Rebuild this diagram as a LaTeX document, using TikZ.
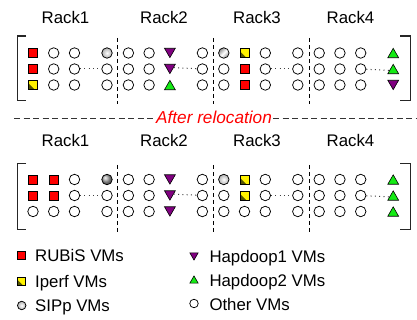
\documentclass[tikz,border=0pt]{standalone}
\usepackage{fontspec}
\setmainfont{Liberation Sans}
\usetikzlibrary{shapes.geometric}

\definecolor{hdpurple}{RGB}{128,0,128}
\definecolor{hdgreen}{RGB}{20,235,20}
\definecolor{iperfdark}{RGB}{85,85,0}

% x positions of the 16 server columns (4 racks x 4 columns)
\def\colx{{33,53.7,74.5,107,128.4,149.1,169.9,202.4,223.8,244.5,265.3,297.8,319.2,339.9,360.7,393.2}}

% one row of VM markers: node prefix, y position, list of marker codes
\newcommand\vmrow[3]{%
  \foreach \code [count=\c] in {#3} {
    \pgfmathsetmacro\xx{\colx[\c-1]}
    \node[m-\code] (#1-\c) at (\xx,#2) {};
  }}

\begin{document}
\begin{tikzpicture}[x=1pt,y=-1pt,
  font=\fontsize{16.8}{19}\selectfont,
  vm/.style={circle,draw=black,line width=0.75pt,minimum size=10.5pt,inner sep=0pt,fill=white},
  m-o/.style={vm},
  m-r/.style={rectangle,draw=black,line width=0.6pt,fill=red,minimum size=9pt,inner sep=0pt},
  m-y/.style={m-r,fill=yellow,path picture={
      \fill[iperfdark] (path picture bounding box.south west)
        -- ([xshift=-3pt]path picture bounding box.south east)
        -- ([yshift=-3pt]path picture bounding box.north west) -- cycle;}},
  m-s1/.style={vm,inner color=white,outer color=gray!60},
  m-s2/.style={vm,left color=gray!85,right color=gray!85,middle color=white,shading angle=45},
  m-s3/.style={vm,ball color=gray!70},
  tri/.style={regular polygon,regular polygon sides=3,draw=black,line width=0.6pt,
      minimum size=12.5pt,inner sep=0pt},
  m-d/.style={tri,shape border rotate=180,fill=hdpurple,yshift=1.6pt},
  m-u/.style={tri,fill=hdgreen,yshift=-1.6pt},
  bracket/.style={line width=1.3pt,black!85},
  divider/.style={line width=0.8pt,dash pattern=on 4pt off 3pt},
  dotline/.style={line width=1pt,dash pattern=on 1pt off 3.3pt,black!75},
  sepline/.style={line width=0.9pt,dash pattern=on 6pt off 3.5pt,black!80},
  rack/.style={inner sep=0pt},
  lgtext/.style={anchor=base west,inner sep=0pt},
  lg-r/.style={m-r,minimum size=8pt},
  lg-y/.style={m-y,minimum size=8pt},
  lg-s/.style={m-s1,minimum size=8.5pt},
  lg-o/.style={vm,minimum size=8.5pt},
  lg-d/.style={m-d,minimum size=9.5pt,yshift=-0.4pt},
  lg-u/.style={m-u,minimum size=9.5pt,yshift=0.4pt}]

\fill[white] (0,0) rectangle (417,320);
\useasboundingbox (0,0) rectangle (417,320);

% ---------------- before relocation ----------------
\node[rack] (r1a) at (65.5,17) {Rack1};
\node[rack] (r2a) at (164,17) {Rack2};
\node[rack] (r3a) at (257,17) {Rack3};
\node[rack] (r4a) at (350.5,17) {Rack4};

\draw[bracket] (26,36) -- (17.5,36) -- (17.5,100.5) -- (26,100.5);
\draw[bracket] (400,36) -- (410.7,36) -- (410.7,100.5) -- (400,100.5);
\foreach \x in {117.5,213.5,309.5} \draw[divider] (\x,38) -- (\x,104);

\vmrow{t1}{53}{r,o,o,s1,o,o,d,o,s2,y,o,o,o,o,o,u}
\vmrow{t2}{69}{r,o,o,o,o,o,d,o,o,r,o,o,o,o,o,u}
\vmrow{t3}{85}{y,o,o,o,o,o,u,o,o,r,o,o,o,o,o,d}

% ---------------- separator ----------------
\node[red,font=\fontsize{17.2}{19}\selectfont\itshape,inner sep=1pt] (after) at (214,117) {After relocation};
\coordinate (sepL) at (14,118.3);
\coordinate (sepR) at (417,118.3);
\draw[sepline] (sepL) -- (sepL -| after.west);
\draw[sepline] (sepR -| after.east) -- (sepR);

% ---------------- after relocation ----------------
\node[rack] (r1b) at (65.5,140) {Rack1};
\node[rack] (r2b) at (164,140) {Rack2};
\node[rack] (r3b) at (257,140) {Rack3};
\node[rack] (r4b) at (350.5,140) {Rack4};

\draw[bracket] (26,163.5) -- (17.5,163.5) -- (17.5,229.5) -- (26,229.5);
\draw[bracket] (400,163.5) -- (410.7,163.5) -- (410.7,229.5) -- (400,229.5);
\foreach \x in {117.5,213.5,309.5} \draw[divider] (\x,165) -- (\x,232);

\vmrow{b1}{179.5}{r,r,o,s3,o,o,d,o,s1,y,o,o,o,o,o,u}
\vmrow{b2}{195.5}{r,r,o,o,o,o,d,o,o,y,o,o,o,o,o,u}
\vmrow{b3}{211.5}{o,o,o,o,o,o,d,o,o,o,o,o,o,o,o,u}

% elided servers between the third and last column of every rack
\foreach \i [evaluate=\i as \j using int(\i+1)] in {3,7,11,15} {
  \draw[dotline] (t2-\i) -- (t2-\j);
  \draw[dotline] (b2-\i) -- (b2-\j);
}

% ---------------- legend ----------------
\node[lg-r] (lgr) at (21.7,255) {};
\node[lgtext] (lgrt) at (35,261) {RUBiS VMs};
\node[lg-y] (lgy) at (21.7,281) {};
\node[lgtext] (lgyt) at (35,287) {Iperf VMs};
\node[lg-s] (lgs) at (21.7,305.5) {};
\node[lgtext] (lgst) at (35,311.5) {SIPp VMs};
\node[lg-d] (lgd) at (194,256.5) {};
\node[lgtext] (lgdt) at (209.3,262) {Hapdoop1 VMs};
\node[lg-u] (lgu) at (194,279.5) {};
\node[lgtext] (lgut) at (209.3,286) {Hapdoop2 VMs};
\node[lg-o] (lgo) at (194,303.5) {};
\node[lgtext] (lgot) at (209.3,310) {Other VMs};

\end{tikzpicture}
\end{document}
